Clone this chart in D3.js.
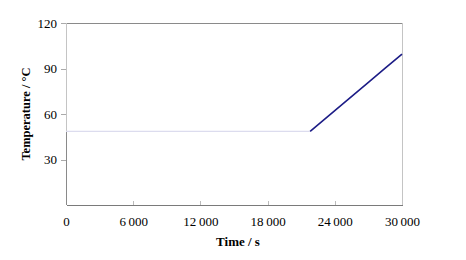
<!DOCTYPE html>
<html>
<head>
<meta charset="utf-8">
<script src="https://cdn.jsdelivr.net/npm/d3@7"></script>
<style>
  html, body { margin: 0; padding: 0; background: #fff; }
  text { font-family: "Liberation Serif", "Times New Roman", serif; fill: #000; }
</style>
</head>
<body>
<script>

// Data.
var xTicks = [0, 6000, 12000, 18000, 24000, 30000];
var yTicks = [30, 60, 90, 120];

// Hold segment (light) and heating ramp (navy).
var holdTime = [0, 21800];
var holdTemp = [48.5, 48.5];
var baseTime = [0, 0];
var baseTemp = [0, 48.5];
var rampTime = [21800, 24000, 27000, 28500, 30000];
var rampTemp = [48.5, 62.2, 80.8, 90.2, 99.5];

var W = 466, H = 260;
var m = { left: 66, right: 64, top: 23, bottom: 55 };
var iw = W - m.left - m.right;
var ih = H - m.top - m.bottom;

var svg = d3.select('body').append('svg')
  .attr('width', W).attr('height', H);

var x = d3.scaleLinear().domain([0, 30000]).range([m.left, m.left + iw]);
var y = d3.scaleLinear().domain([0, 120]).range([m.top + ih, m.top]);

var fmt = function(d) {
  return d3.format(',')(d).replace(/,/g, '\u2009');
};

// Frame.
var frame = svg.append('g').attr('fill', 'none').attr('shape-rendering', 'crispEdges');
frame.append('line').attr('x1', x(0)).attr('x2', x(30000))
  .attr('y1', y(120)).attr('y2', y(120)).attr('stroke', '#8a8a8a');
frame.append('line').attr('x1', x(30000)).attr('x2', x(30000))
  .attr('y1', y(120)).attr('y2', y(0)).attr('stroke', '#c4c4c4');
frame.append('line').attr('x1', x(0)).attr('x2', x(0))
  .attr('y1', y(120)).attr('y2', y(0)).attr('stroke', '#c4c4c4');

// X axis, ticks inside.
var xAxis = svg.append('g')
  .attr('transform', 'translate(0,' + y(0) + ')')
  .call(d3.axisBottom(x).tickValues(xTicks).tickSizeInner(-4).tickSizeOuter(0)
    .tickPadding(12).tickFormat(fmt));
xAxis.select('.domain').attr('stroke', '#7a7a7a').attr('shape-rendering', 'crispEdges');
xAxis.selectAll('.tick line').attr('stroke', '#bbb')
  .attr('shape-rendering', 'crispEdges');
xAxis.selectAll('.tick').filter(function(d) { return d === 0 || d === 30000; })
  .select('line').remove();
xAxis.selectAll('text').attr('font-size', 13)
  .style('font-family', '"Liberation Serif", serif').attr('fill', '#000');

// Y axis, ticks outside.
var yAxis = svg.append('g')
  .attr('transform', 'translate(' + x(0) + ',0)')
  .call(d3.axisLeft(y).tickValues(yTicks).tickSizeInner(5).tickSizeOuter(0)
    .tickPadding(4));
yAxis.select('.domain').remove();
yAxis.selectAll('.tick line').attr('stroke', '#aaa')
  .attr('shape-rendering', 'crispEdges');
yAxis.selectAll('text').attr('font-size', 13)
  .style('font-family', '"Liberation Serif", serif').attr('fill', '#000');

// Series.
var line = d3.line()
  .x(function(d) { return x(d[0]); })
  .y(function(d) { return y(d[1]); });

svg.append('path')
  .datum(d3.zip(baseTime, baseTemp))
  .attr('d', line).attr('fill', 'none')
  .attr('stroke', '#8a8a8a').attr('shape-rendering', 'crispEdges');

svg.append('path')
  .datum(d3.zip(holdTime, holdTemp))
  .attr('d', line).attr('fill', 'none')
  .attr('stroke', '#dcdcee').attr('stroke-width', 1.2);

svg.append('path')
  .datum(d3.zip(rampTime, rampTemp))
  .attr('d', line).attr('fill', 'none')
  .attr('stroke', '#1c1c86').attr('stroke-width', 1.6);

// Axis titles.
svg.append('text')
  .attr('x', (x(0) + x(30000)) / 2 + 4).attr('y', 246)
  .attr('text-anchor', 'middle').attr('font-size', 13).attr('font-weight', 'bold')
  .text('Time / s');

svg.append('text')
  .attr('transform', 'translate(30,' + ((y(0) + y(120)) / 2) + ') rotate(-90)')
  .attr('text-anchor', 'middle').attr('font-size', 12.5).attr('font-weight', 'bold')
  .text('Temperature / °C');

</script>
</body>
</html>
